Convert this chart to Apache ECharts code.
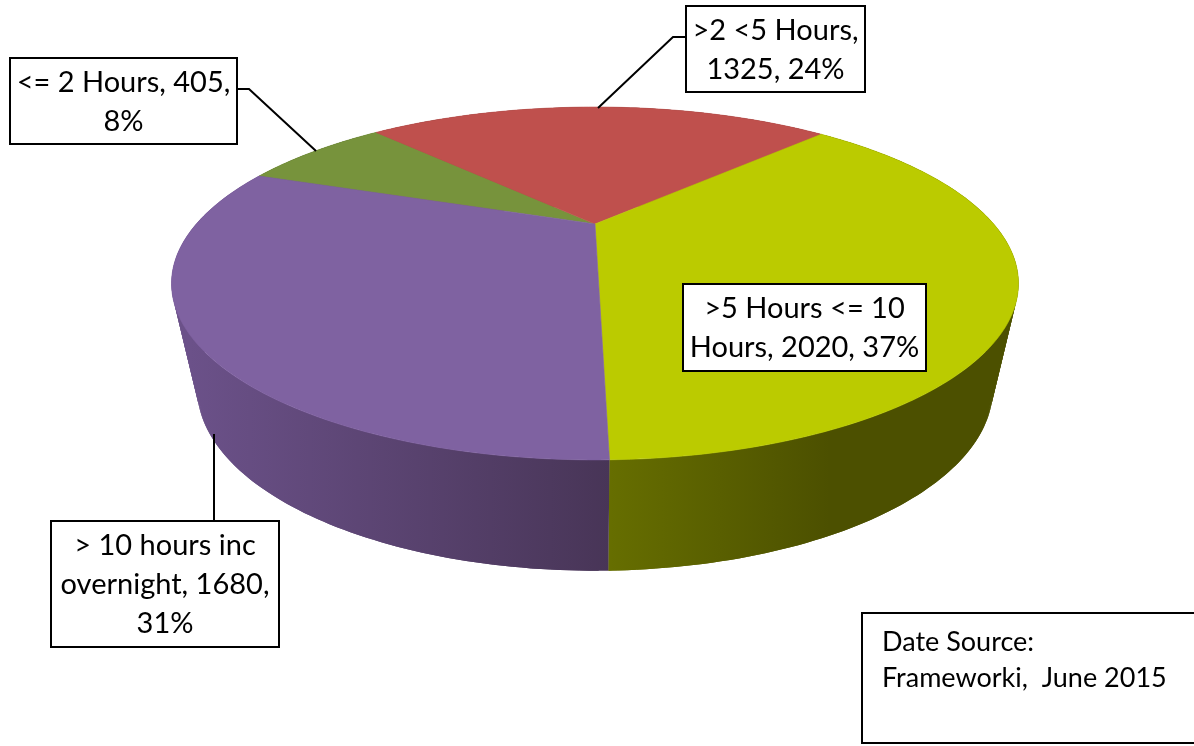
<!DOCTYPE html>
<html><head><meta charset="utf-8">
<style>html,body{margin:0;padding:0;background:#fff}#c{width:1194px;height:746px}</style>
<script src="https://cdn.jsdelivr.net/npm/echarts@6/dist/echarts.min.js"></script>
</head><body><div id="c"></div>
<script>
// Data
var categories = ['<= 2 Hours', '>2 <5 Hours', '>5 Hours <= 10 Hours', '> 10 hours inc overnight'];
var values = [405, 1325, 2020, 1680];
var percents = [8, 24, 37, 31];
var labelTexts = ['<= 2 Hours, 405,\n8%', '>2 <5 Hours,\n1325, 24%', '>5 Hours <= 10\nHours, 2020, 37%', '> 10 hours inc\novernight, 1680,\n31%'];
var sourceNote = 'Date Source:\nFrameworki,  June 2015';

// Style and layout
var topColors = ['#77933c', '#bf504d', '#bbcb00', '#7f62a1'];
var sideStops = [
  ['#4f6225', '#4f6225'], ['#7f3533', '#7f3533'],
  ['#666e00', '#4c5000'], ['#6b5189', '#483557']
];
var sideGrad = [[0, 1], [0, 1], [610, 830], [190, 610]];
var START = 290;
var TOP = {cx: 595, cy: 224, a: 156.4, b: 398.7, k: 0.337};
var BOT = {cx: 595, cy: 330, a: 163.7, b: 377, k: 0.32};
var boxes = [
  {x: 10, y: 58, w: 227, h: 86, line: [[237, 89], [249, 89], [316, 151]]},
  {x: 686, y: 6, w: 179, h: 86, line: [[686, 37], [673, 37], [598, 108]]},
  {x: 683, y: 284, w: 243, h: 87, line: null},
  {x: 51, y: 521, w: 228, h: 126, line: [[214, 521], [214, 434]]}
];
var FONT = 'Lato, Carlito, sans-serif';

var total = values.reduce(function (s, v) { return s + v; }, 0);
function project(p, deg) {
  var t = deg * Math.PI / 180, u = Math.sin(t), v = Math.cos(t), w = 1 + p.k * v;
  return [p.cx + p.b * u / w, p.cy - p.a * v / w];
}
function arc(p, a0, a1) {
  var n = Math.max(2, Math.ceil(Math.abs(a1 - a0))), out = [];
  for (var i = 0; i <= n; i++) out.push(project(p, a0 + (a1 - a0) * i / n));
  return out;
}
function range(i) {
  var before = 0;
  for (var j = 0; j < i; j++) before += values[j];
  return [START + before / total * 360, START + (before + values[i]) / total * 360];
}
var data = values.map(function (v) { return [v]; });

function renderSide(params) {
  var i = params.dataIndex, r = range(i), kids = [];
  var fill = {type: 'linear', global: true, x: sideGrad[i][0], y: 0, x2: sideGrad[i][1], y2: 0,
    colorStops: [{offset: 0, color: sideStops[i][0]}, {offset: 1, color: sideStops[i][1]}]};
  // sweep the wall as overlapping quads so the silhouette joins both rims
  for (var a = r[0]; a < r[1]; a += 1) {
    var e = Math.min(a + 2, r[1]);
    kids.push({type: 'polygon', shape: {points: arc(TOP, a, e).concat(arc(BOT, e, a))}, style: {fill: fill}});
  }
  return {type: 'group', children: kids};
}
function renderTop(params) {
  var i = params.dataIndex, r = range(i);
  var pts = [[TOP.cx, TOP.cy]].concat(arc(TOP, r[0], r[1]));
  return {
    type: 'polygon', shape: {points: pts},
    style: {fill: topColors[i], stroke: topColors[i], lineWidth: 0.6}
  };
}
function renderLabel(params) {
  var i = params.dataIndex, b = boxes[i], kids = [];
  if (b.line) kids.push({type: 'polyline', shape: {points: b.line}, style: {fill: 'none', stroke: '#000', lineWidth: 2}});
  kids.push({type: 'rect', shape: {x: b.x, y: b.y, width: b.w, height: b.h}, style: {fill: '#fff', stroke: '#000', lineWidth: 2}});
  kids.push({type: 'text', style: {
    x: b.x + b.w / 2, y: b.y + b.h / 2 + 1, text: labelTexts[i], fill: '#000',
    font: '29px ' + FONT, align: 'center', verticalAlign: 'middle', lineHeight: 39
  }});
  return {type: 'group', children: kids};
}

var chart = echarts.init(document.getElementById('c'), null, {renderer: 'canvas'});
chart.setOption({
  animation: false,
  backgroundColor: '#fff',
  series: [
    {type: 'custom', name: 'sides', coordinateSystem: 'none', silent: true, data: data, renderItem: renderSide, z: 1},
    {type: 'custom', name: 'tops', coordinateSystem: 'none', silent: true, data: data, renderItem: renderTop, z: 2},
    {type: 'custom', name: 'labels', coordinateSystem: 'none', silent: true, data: data, renderItem: renderLabel, z: 3}
  ],
  graphic: [
    {type: 'rect', z: 10, shape: {x: 862, y: 613, width: 340, height: 130}, style: {fill: '#fff', stroke: '#000', lineWidth: 2}},
    {type: 'text', z: 11, style: {x: 882, y: 660, text: sourceNote, fill: '#000', font: '27px ' + FONT, align: 'left', verticalAlign: 'middle', lineHeight: 36}}
  ]
});
</script></body></html>
